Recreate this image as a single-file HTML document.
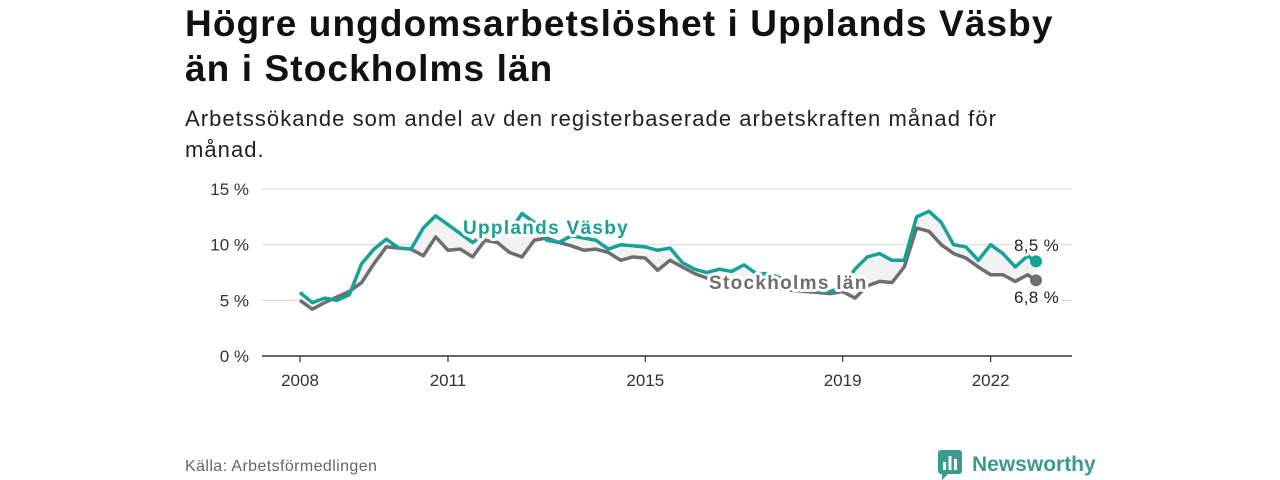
<!DOCTYPE html>
<html><head><meta charset="utf-8"><style>
body{margin:0;background:#fff;width:1280px;height:480px;overflow:hidden;font-family:"Liberation Sans",sans-serif;position:relative}
h1{position:absolute;left:185px;top:1px;margin:0;font-size:37px;line-height:45px;font-weight:bold;color:#111;letter-spacing:1.1px}
.sub{position:absolute;left:185px;top:103px;font-size:22px;line-height:31px;color:#222;width:900px;letter-spacing:1.05px}
.src{position:absolute;left:185px;top:458px;font-size:16px;color:#666;letter-spacing:0.4px}
.logo{position:absolute;left:938px;top:450px;display:flex;align-items:center;font-size:21px;font-weight:bold;color:#3a9c8c}
</style></head><body>
<h1>Högre ungdomsarbetslöshet i Upplands Väsby<br>än i Stockholms län</h1>
<div class="sub">Arbetssökande som andel av den registerbaserade arbetskraften månad för<br>månad.</div>
<svg id="chart" width="1280" height="480" style="position:absolute;left:0;top:0"></svg>
<div class="src">Källa: Arbetsförmedlingen</div>
<div class="logo"><svg width="26" height="30" style="margin-right:8px"><rect x="0" y="0" width="24" height="24" rx="3" fill="#3a9c8c"/><path d="M4 24 L4 30 L10 24Z" fill="#3a9c8c"/><rect x="5" y="12" width="3" height="8" fill="#fff"/><rect x="10.5" y="6" width="3" height="14" fill="#fff"/><rect x="16" y="9" width="3" height="11" fill="#fff"/></svg>Newsworthy</div>
<script>
const dates=[2008,2008.25,2008.5,2008.75,2009,2009.25,2009.5,2009.75,2010,2010.25,2010.5,2010.75,2011,2011.25,2011.5,2011.75,2012,2012.25,2012.5,2012.75,2013,2013.25,2013.5,2013.75,2014,2014.25,2014.5,2014.75,2015,2015.25,2015.5,2015.75,2016,2016.25,2016.5,2016.75,2017,2017.25,2017.5,2017.75,2018,2018.25,2018.5,2018.75,2019,2019.25,2019.5,2019.75,2020,2020.25,2020.5,2020.75,2021,2021.25,2021.5,2021.75,2022,2022.25,2022.5,2022.75,2022.92];
const vasby=[5.7,4.8,5.2,5.0,5.5,8.3,9.6,10.5,9.7,9.6,11.5,12.6,11.8,11.0,10.2,11.0,11.5,11.2,12.8,12.0,10.4,10.2,10.8,10.6,10.4,9.6,10.0,9.9,9.8,9.5,9.7,8.4,7.8,7.5,7.8,7.6,8.2,7.4,7.4,7.0,6.6,6.2,5.9,5.8,6.2,7.8,8.9,9.2,8.6,8.6,12.5,13.0,12.0,10.0,9.8,8.6,10.0,9.2,8.0,9.0,8.5];
const sthlm=[5.0,4.2,4.8,5.3,5.8,6.6,8.3,9.8,9.7,9.6,9.0,10.7,9.5,9.6,8.9,10.4,10.2,9.3,8.9,10.4,10.6,10.2,9.9,9.5,9.6,9.3,8.6,8.9,8.8,7.7,8.6,8.0,7.4,7.0,6.8,6.6,6.6,6.4,6.2,6.0,5.9,5.8,5.7,5.6,5.8,5.2,6.3,6.7,6.6,8.0,11.5,11.2,10.0,9.2,8.8,8.0,7.3,7.3,6.7,7.3,6.8];
const yTicks=[0,5,10,15];
const xTicks=[2008,2011,2015,2019,2022];
const svg=document.getElementById('chart');const NS='http://www.w3.org/2000/svg';
const X=t=>300+49.33*(t-2008), Y=v=>356-11.13*v;
function mk(tag,at,txt){const e=document.createElementNS(NS,tag);for(const k in at)e.setAttribute(k,at[k]);if(txt!=null)e.textContent=txt;svg.appendChild(e);return e;}
yTicks.forEach(v=>{
 if(v>0){const g=mk('line',{x1:262,x2:1072,y1:Y(v),y2:Y(v),stroke:'#ddd','stroke-width':1.2});
 
 }
 const t=mk('text',{x:249,y:Y(v)+6,'text-anchor':'end','font-size':17,fill:'#333'},v+' %');
 
 
});
xTicks.forEach(y=>{
 const l=mk('line',{x1:X(y),x2:X(y),y1:356,y2:362,stroke:'#333','stroke-width':1.2});
 
 
 const t=mk('text',{x:X(y),y:386,'text-anchor':'middle','font-size':17,fill:'#333'},y);
 
 
});
const pv=dates.map((d,i)=>X(d)+','+Y(vasby[i])), ps=dates.map((d,i)=>X(d)+','+Y(sthlm[i]));
const a1=mk('polygon',{points:pv.join(' ')+' '+X(dates[dates.length-1])+',356 300,356',fill:'#f2f2f2'});


const a2=mk('polygon',{points:ps.join(' ')+' '+X(dates[dates.length-1])+',356 300,356',fill:'#fff'});


const ax=mk('line',{x1:262,x2:1072,y1:356,y2:356,stroke:'#333','stroke-width':1.5});


const ls=mk('polyline',{points:ps.join(' '),fill:'none',stroke:'#6e6e6e','stroke-width':3.5,'stroke-linejoin':'round'});


const lv=mk('polyline',{points:pv.join(' '),fill:'none',stroke:'#17a197','stroke-width':3.5,'stroke-linejoin':'round'});


const n=dates.length-1;
const d1=mk('circle',{cx:X(dates[n]),cy:Y(vasby[n]),r:6,fill:'#17a197'});


const d2=mk('circle',{cx:X(dates[n]),cy:Y(sthlm[n]),r:6,fill:'#6e6e6e'});


const halo={stroke:'#fff','stroke-width':6,'paint-order':'stroke','stroke-linejoin':'round','letter-spacing':1.3};
const lab1=mk('text',Object.assign({x:463,y:234,'font-size':19,'font-weight':'bold',fill:'#17a197'},halo),'Upplands Väsby');


const lab2=mk('text',Object.assign({x:709,y:289,'font-size':19,'font-weight':'bold',fill:'#6e6e6e'},halo),'Stockholms län');


const e1=mk('text',Object.assign({x:1059,y:251,'text-anchor':'end','font-size':17,fill:'#222'},halo,{'letter-spacing':0.3}),vasby[n].toFixed(1).replace('.',',')+' %');


const e2=mk('text',Object.assign({x:1059,y:303,'text-anchor':'end','font-size':17,fill:'#222'},halo,{'letter-spacing':0.3}),sthlm[n].toFixed(1).replace('.',',')+' %');


</script>
</body></html>
